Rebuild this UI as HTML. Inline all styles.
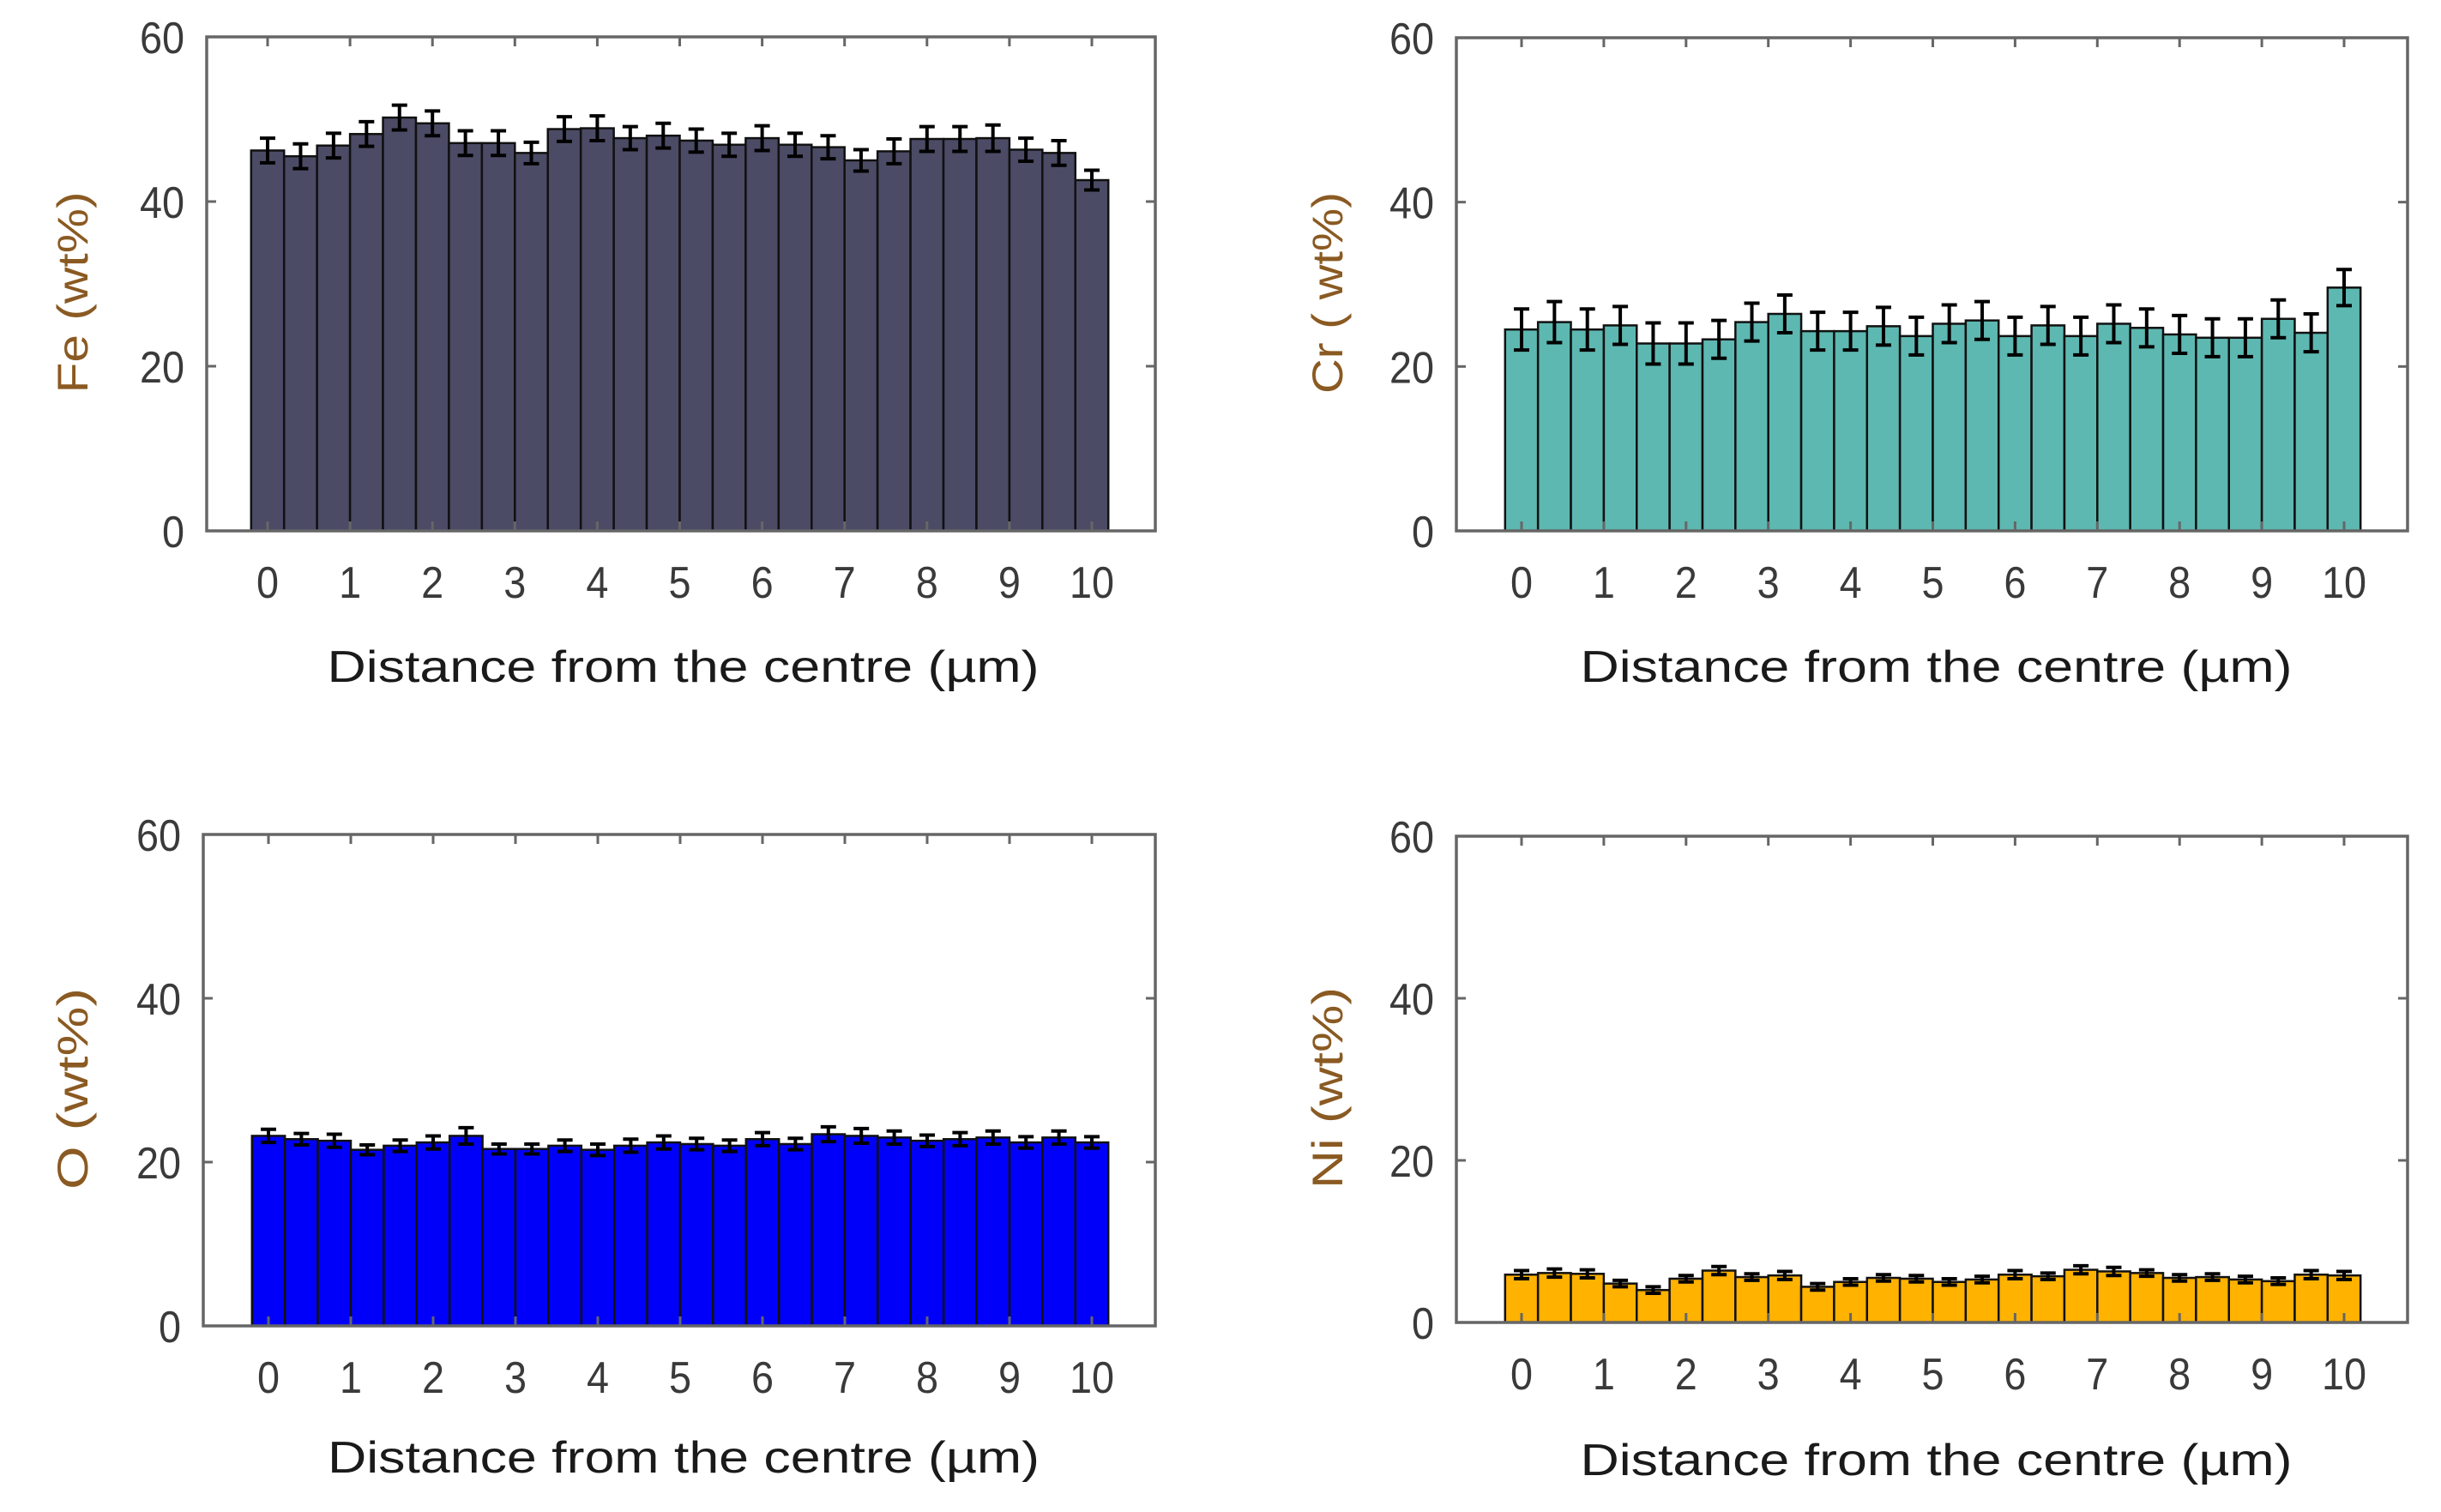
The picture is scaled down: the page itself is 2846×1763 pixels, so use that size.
<!DOCTYPE html>
<html><head><meta charset="utf-8">
<style>
html,body{margin:0;padding:0;background:#fff;}
svg{display:block;}
</style></head>
<body>
<svg id="fig" width="2846" height="1763" viewBox="0 0 2846 1763" xmlns="http://www.w3.org/2000/svg"></svg>
<script>
const categories = [0,0.4,0.8,1.2,1.6,2,2.4,2.8,3.2,3.6,4,4.4,4.8,5.2,5.6,6,6.4,6.8,7.2,7.6,8,8.4,8.8,9.2,9.6,10];
const xTickLabels = [0,1,2,3,4,5,6,7,8,9,10];
const yTickLabels = [0,20,40,60];
const feValues = [46.2,45.5,46.8,48.2,50.2,49.5,47.1,47.1,45.9,48.8,48.9,47.7,48.0,47.4,46.9,47.7,46.9,46.6,45.0,46.1,47.6,47.6,47.7,46.3,45.9,42.6];
const feErrors = [1.5,1.5,1.5,1.5,1.5,1.5,1.5,1.5,1.3,1.5,1.5,1.4,1.5,1.4,1.4,1.5,1.4,1.4,1.3,1.5,1.5,1.5,1.6,1.4,1.5,1.2];
const crValues = [24.5,25.4,24.5,25.0,22.8,22.8,23.3,25.4,26.4,24.3,24.3,24.9,23.7,25.2,25.6,23.7,25.0,23.7,25.2,24.7,23.9,23.5,23.5,25.8,24.1,29.6];
const crErrors = [2.5,2.5,2.5,2.3,2.5,2.5,2.3,2.3,2.3,2.3,2.3,2.3,2.3,2.3,2.3,2.3,2.3,2.3,2.3,2.3,2.3,2.3,2.3,2.3,2.3,2.2];
const oValues = [23.2,22.8,22.6,21.5,22.0,22.4,23.2,21.6,21.6,22.0,21.5,22.0,22.4,22.2,22.0,22.8,22.2,23.4,23.2,23.0,22.6,22.8,23.0,22.4,23.0,22.4];
const oErrors = [0.8,0.7,0.8,0.6,0.7,0.8,1.0,0.6,0.6,0.7,0.7,0.8,0.8,0.7,0.7,0.8,0.7,0.9,0.9,0.8,0.7,0.8,0.8,0.7,0.8,0.7];
const niValues = [5.9,6.1,6.0,4.8,4.0,5.4,6.4,5.6,5.8,4.4,5.0,5.5,5.4,5.0,5.3,5.9,5.7,6.5,6.3,6.1,5.5,5.6,5.3,5.1,5.9,5.8];
const niErrors = [0.5,0.5,0.5,0.4,0.4,0.4,0.5,0.4,0.5,0.4,0.4,0.4,0.4,0.4,0.4,0.5,0.4,0.5,0.5,0.4,0.4,0.4,0.4,0.4,0.5,0.5];

const NS = 'http://www.w3.org/2000/svg';
const svg = document.getElementById('fig');
function mk(tag, attrs, parent){
  const e = document.createElementNS(NS, tag);
  for (const k in attrs) e.setAttribute(k, attrs[k]);
  (parent||svg).appendChild(e);
  return e;
}

const panels = [
  {key:'fe', label:'Fe (wt%)', vals:feValues, errs:feErrors, color:'#4b4b66', x0:241, x1:1347, t0:312, t10:1273, yTop:43, yBot:619, ylx:85, xly:795},
  {key:'cr', label:'Cr ( wt%)', vals:crValues, errs:crErrors, color:'#5db8b1', x0:1698, x1:2807, t0:1774, t10:2733, yTop:44, yBot:619, ylx:1548, xly:795},
  {key:'o', label:'O (wt%)', vals:oValues, errs:oErrors, color:'#0000fa', x0:237, x1:1347, t0:313, t10:1273, yTop:973, yBot:1546, ylx:85, xly:1717},
  {key:'ni', label:'Ni (wt%)', vals:niValues, errs:niErrors, color:'#ffb200', x0:1698, x1:2807, t0:1774, t10:2733, yTop:975, yBot:1542, ylx:1548, xly:1720}
];

panels.forEach(p => {
  const g = mk('g', {});
  
  
  const xs = v => p.t0 + (p.t10 - p.t0) * v / 10;
  const ys = v => p.yBot - (p.yBot - p.yTop) * v / 60;
  const bw = (p.t10 - p.t0) / 10 * 0.4;

  categories.forEach((c, i) => {
    const r = mk('rect', {x: xs(c) - bw/2, y: ys(p.vals[i]), width: bw, height: ys(0) - ys(p.vals[i]), fill: p.color, stroke: '#111', 'stroke-width': 2.5}, g);
    
    
  });
  categories.forEach((c, i) => {
    const cx = xs(c), hi = ys(p.vals[i] + p.errs[i]), lo = ys(p.vals[i] - p.errs[i]);
    const eg = mk('g', {stroke: '#000', 'stroke-width': 4}, g);
    
    
    mk('line', {x1: cx, x2: cx, y1: hi, y2: lo}, eg);
    mk('line', {x1: cx - 9, x2: cx + 9, y1: hi, y2: hi}, eg);
    mk('line', {x1: cx - 9, x2: cx + 9, y1: lo, y2: lo}, eg);
  });
  const fr = mk('rect', {x: p.x0, y: p.yTop, width: p.x1 - p.x0, height: p.yBot - p.yTop, fill: 'none', stroke: '#666', 'stroke-width': 3.5}, g);
  
  
  xTickLabels.forEach(t => {
    const x = xs(t);
    mk('line', {x1: x, x2: x, y1: p.yBot, y2: p.yBot - 11, stroke: '#666', 'stroke-width': 3}, g);
    mk('line', {x1: x, x2: x, y1: p.yTop, y2: p.yTop + 11, stroke: '#666', 'stroke-width': 3}, g);
    const tx = mk('text', {x: x, y: p.yBot + 78, 'text-anchor': 'middle', 'font-family': 'Liberation Sans, sans-serif', 'font-size': 52, fill: '#3a3a3a', transform: 'translate(' + x + ',0) scale(0.9,1) translate(' + (-x) + ',0)'}, g);
    
    
    tx.textContent = t;
  });
  yTickLabels.forEach(t => {
    const y = ys(t);
    mk('line', {x1: p.x0, x2: p.x0 + 11, y1: y, y2: y, stroke: '#666', 'stroke-width': 3}, g);
    mk('line', {x1: p.x1, x2: p.x1 - 11, y1: y, y2: y, stroke: '#666', 'stroke-width': 3}, g);
    const ax = p.x0 - 26;
    const ty = mk('text', {x: ax, y: y + 19, 'text-anchor': 'end', 'font-family': 'Liberation Sans, sans-serif', 'font-size': 52, fill: '#3a3a3a', transform: 'translate(' + ax + ',0) scale(0.9,1) translate(' + (-ax) + ',0)'}, g);
    
    
    ty.textContent = t;
  });
  const xl = mk('text', {x: (p.t0 + p.t10) / 2 + 4, y: p.xly, 'text-anchor': 'middle', 'font-family': 'Liberation Sans, sans-serif', 'font-size': 52, fill: '#1a1a1a', textLength: 830, lengthAdjust: 'spacingAndGlyphs'}, g);
  
  
  xl.textContent = 'Distance from the centre (\u00b5m)';
  const cy = (p.yTop + p.yBot) / 2 + 10;
  const yl = mk('text', {x: 0, y: 0, transform: 'translate(' + (p.ylx + 17) + ',' + cy + ') rotate(-90)', 'text-anchor': 'middle', 'font-family': 'Liberation Sans, sans-serif', 'font-size': 50, fill: '#8a5a22', textLength: 235, lengthAdjust: 'spacingAndGlyphs'}, g);
  
  
  yl.textContent = p.label;
});
</script>
</body></html>
